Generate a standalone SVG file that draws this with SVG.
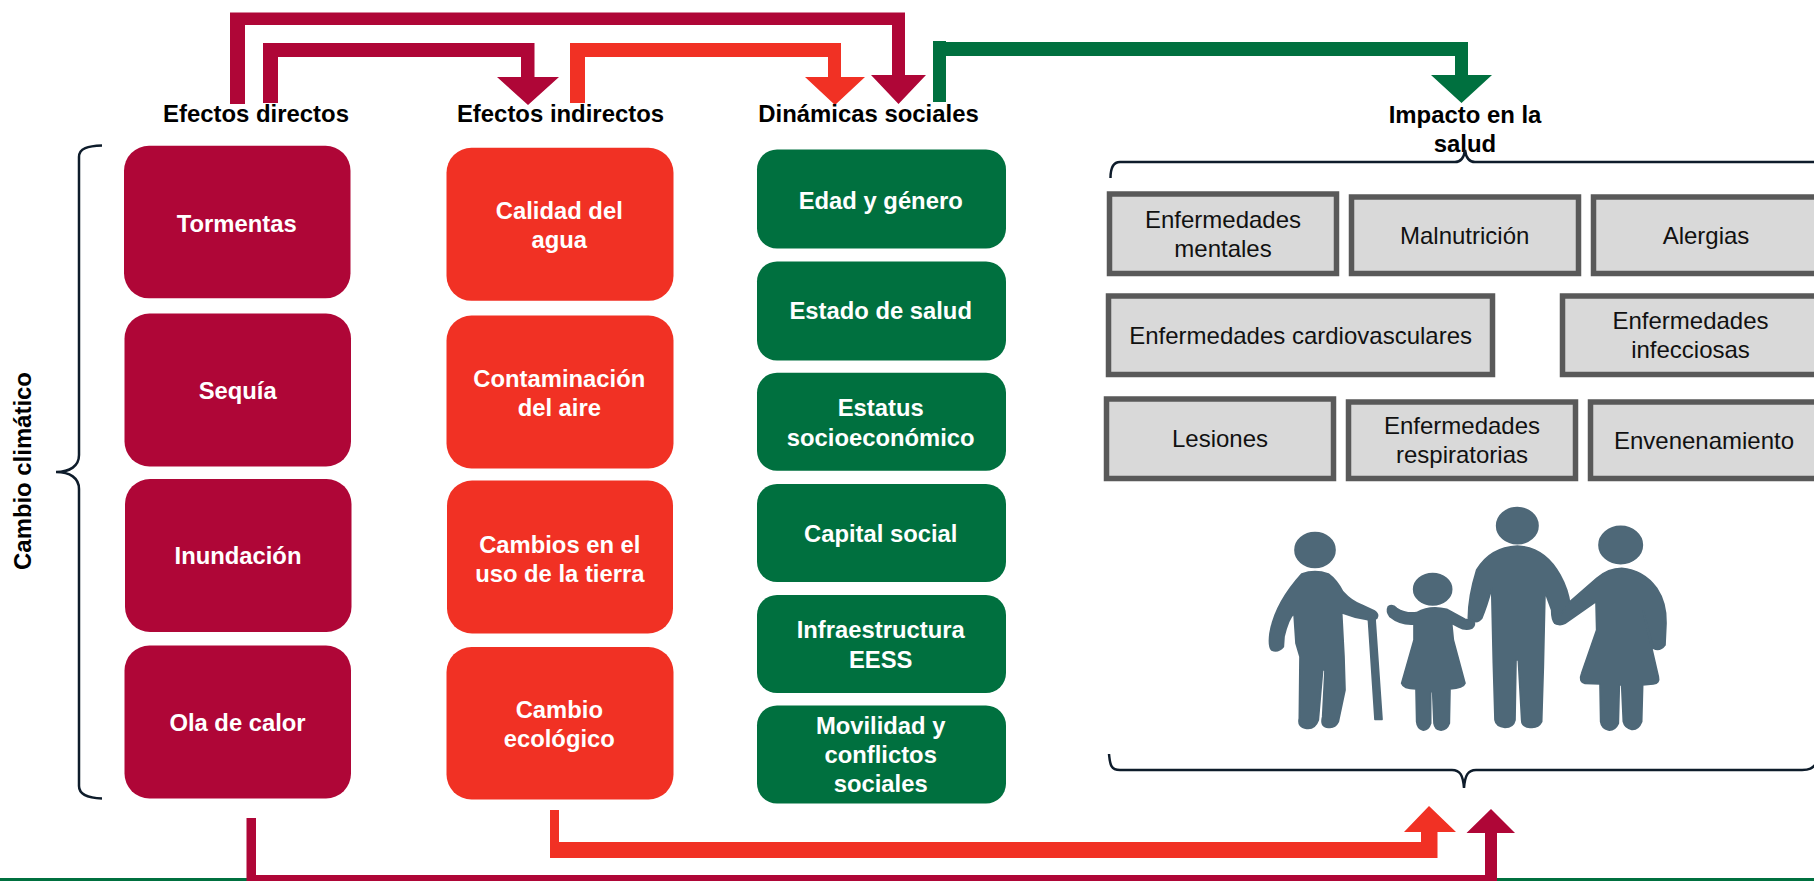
<svg xmlns="http://www.w3.org/2000/svg" width="1814" height="881" viewBox="0 0 1814 881">
<style>
text{font-family:"Liberation Sans",Arial,sans-serif;text-anchor:middle}
.h{font-size:23.9px;font-weight:700;fill:#000}
.w{font-size:23.8px;font-weight:700;fill:#fff}
.g{font-size:24px;fill:#111}
.cr{fill:#AF0637}.or{fill:#F13124}.gn{fill:#00703F}
.bx{fill:#D9D9D9;stroke:#595959;stroke-width:5.500}
.br{fill:none;stroke:#0E1C2B;stroke-width:2.500}
.fam{fill:#4E6878;stroke:#4E6878;stroke-width:5;stroke-linejoin:round}
</style>
<rect width="1814" height="881" fill="#fff"/>
<rect id="base-line" class="gn" x="0" y="878" width="1814" height="3"/>
<g id="connectors">
<path id="c1" class="cr" d="M230 104V12.500H905V75H926L898.500 104L871 75H892V25H245V104Z"/>
<path id="c2" class="cr" d="M263 103V43H534.500V77H559L528 105L497 77H521V57H278V103Z"/>
<path id="c3" class="or" d="M570 103V43H841V77H865L835 105L805 77H828V57H585V103Z"/>
<path id="c4" class="gn" d="M933 102V41H946V42H1468V75H1492L1461.500 103L1431 75H1455V56H946V102Z"/>
<path id="c5" class="or" d="M550 810H559V842H1421V832H1404L1429 806L1456 832H1437.500V858H550Z"/>
<path id="c6" class="cr" d="M246.500 818H256V875H1485V833H1466.500L1491 809L1515 833H1497V881H246.500Z"/>
</g>
<g id="direct-effects">
<text class="h" x="256" y="122">Efectos directos</text>
<g id="tormentas"><rect class="cr" x="124" y="145.800" width="226.500" height="152.500" rx="25"/><text class="w" x="236.700" y="231.700">Tormentas</text></g>
<g id="sequia"><rect class="cr" x="124.500" y="313.500" width="226.500" height="153" rx="25"/><text class="w" x="237.700" y="398.700">Sequía</text></g>
<g id="inundacion"><rect class="cr" x="125" y="479" width="226.500" height="153" rx="25"/><text class="w" x="238" y="564">Inundación</text></g>
<g id="ola"><rect class="cr" x="124.500" y="645.500" width="226.500" height="153" rx="25"/><text class="w" x="237.500" y="731">Ola de calor</text></g>
</g>
<g id="indirect-effects">
<text class="h" x="560.500" y="122">Efectos indirectos</text>
<g id="agua"><rect class="or" x="446.500" y="147.800" width="227" height="153" rx="25"/><text class="w" x="559.300" y="218.700">Calidad del</text><text class="w" x="559.300" y="247.700">agua</text></g>
<g id="aire"><rect class="or" x="446.500" y="315.500" width="227" height="153" rx="25"/><text class="w" x="559.300" y="387">Contaminación</text><text class="w" x="559.300" y="416">del aire</text></g>
<g id="tierra"><rect class="or" x="447" y="480.500" width="226" height="153" rx="25"/><text class="w" x="559.800" y="553">Cambios en el</text><text class="w" x="559.800" y="582">uso de la tierra</text></g>
<g id="ecologico"><rect class="or" x="446.500" y="647" width="227" height="152.500" rx="25"/><text class="w" x="559.300" y="718">Cambio</text><text class="w" x="559.300" y="747">ecológico</text></g>
</g>
<g id="social-dynamics">
<text class="h" x="868.500" y="122">Dinámicas sociales</text>
<g id="edad"><rect class="gn" x="757" y="149.500" width="249" height="99" rx="20"/><text class="w" x="880.700" y="208.700">Edad y género</text></g>
<g id="salud"><rect class="gn" x="757" y="261.500" width="249" height="99" rx="20"/><text class="w" x="880.700" y="319">Estado de salud</text></g>
<g id="estatus"><rect class="gn" x="757" y="372.800" width="249" height="98" rx="20"/><text class="w" x="880.700" y="416">Estatus</text><text class="w" x="880.700" y="446">socioeconómico</text></g>
<g id="capital"><rect class="gn" x="757" y="484" width="249" height="98" rx="20"/><text class="w" x="880.700" y="542">Capital social</text></g>
<g id="infra"><rect class="gn" x="757" y="595" width="249" height="98" rx="20"/><text class="w" x="880.700" y="638">Infraestructura</text><text class="w" x="880.700" y="668">EESS</text></g>
<g id="movilidad"><rect class="gn" x="757" y="705.500" width="249" height="98" rx="20"/><text class="w" x="880.700" y="734">Movilidad y</text><text class="w" x="880.700" y="763">conflictos</text><text class="w" x="880.700" y="791.700">sociales</text></g>
</g>
<g id="climate-label">
<text class="h" transform="translate(31 471) rotate(-90)">Cambio climático</text>
<path id="brace-left" class="br" d="M102 145.500C88 146 79 148 79 157V455C79 466 70 472 56 472C70 472 79 478 79 489V786C79 795 88 798 102 798.500"/>
</g>
<g id="health-impact">
<text class="h" x="1465" y="122.500">Impacto en la</text>
<text class="h" x="1465" y="151.500">salud</text>
<path id="brace-top" class="br" d="M1110.500 178C1110.500 168 1113 162 1120 162H1455C1461 162 1464 158 1465 150C1466 158 1469 162 1475 162H1815"/>
<g id="b1"><rect class="bx" x="1109.500" y="194" width="227" height="79.500"/><text class="g" x="1223" y="227.700">Enfermedades</text><text class="g" x="1223" y="257">mentales</text></g>
<g id="b2"><rect class="bx" x="1351.500" y="197" width="227" height="76.500"/><text class="g" x="1464.700" y="244">Malnutrición</text></g>
<g id="b3"><rect class="bx" x="1593.500" y="197" width="227" height="76.500"/><text class="g" x="1706" y="244">Alergias</text></g>
<g id="b4"><rect class="bx" x="1108.500" y="296" width="384" height="78.500"/><text class="g" x="1300.600" y="344">Enfermedades cardiovasculares</text></g>
<g id="b5"><rect class="bx" x="1562.500" y="296" width="260" height="78.500"/><text class="g" x="1690.500" y="329">Enfermedades</text><text class="g" x="1690.500" y="358">infecciosas</text></g>
<g id="b6"><rect class="bx" x="1106.500" y="399" width="227" height="79.500"/><text class="g" x="1220" y="446.700">Lesiones</text></g>
<g id="b7"><rect class="bx" x="1348.500" y="402" width="227" height="76.500"/><text class="g" x="1462" y="434">Enfermedades</text><text class="g" x="1462" y="462.700">respiratorias</text></g>
<g id="b8"><rect class="bx" x="1590.500" y="402" width="227" height="76.500"/><text class="g" x="1704" y="448.700">Envenenamiento</text></g>
<g id="family" class="fam" transform="translate(1220 490) scale(.33333)">
<ellipse cx="285" cy="180" rx="60" ry="52"/>
<path d="M245 252Q285 238 325 252Q350 270 368 305Q395 335 425 345L462 362Q478 372 470 385Q460 392 440 388Q400 382 365 368L372 500L375 600L355 695Q345 715 325 712Q300 712 308 680L315 540H308L295 690Q285 718 260 715Q232 712 238 685L240 500L228 460L222 370Q205 385 192 440L190 470Q175 488 155 480Q145 470 150 430Q165 340 245 252Z"/>
<path d="M445 385H465L486 688H465Z"/>
<ellipse cx="638" cy="298" rx="57" ry="47"/>
<path d="M505 350Q518 342 530 355Q555 372 590 368Q630 345 680 358L735 388L760 392Q768 405 755 415Q735 422 715 410L695 400L700 450L735 580Q730 595 690 597L688 700Q680 722 660 720Q645 718 642 700L638 605H632V700Q625 722 608 720Q592 715 590 695L588 597Q550 597 545 580L582 450V402Q540 405 510 380Q498 365 505 350Z"/>
<ellipse cx="892" cy="107" rx="62" ry="54"/>
<path d="M892 168Q975 172 1020 255Q1045 300 1050 345L1040 385Q1025 408 1005 400Q995 390 995 360L975 305L970 530L965 695Q955 715 930 712Q905 710 905 690L895 510H888L885 690Q880 712 855 712Q828 710 825 690L820 520L815 295Q800 350 785 385Q770 405 745 385Q745 320 770 240Q810 172 892 168Z"/>
<ellipse cx="1202" cy="165" rx="65" ry="56"/>
<path d="M1205 235Q1270 240 1310 295Q1340 340 1338 400L1335 465Q1320 485 1300 475L1270 365L1315 560Q1320 580 1300 582L1268 585L1265 695Q1255 720 1235 718Q1215 715 1210 695L1205 585H1198L1195 700Q1185 722 1165 720Q1145 715 1142 695L1140 582L1095 580Q1075 575 1085 550L1130 420L1128 335L1035 400Q1020 408 1005 400L1050 335L1130 265Q1165 235 1205 235Z"/>
</g>
<path id="brace-bottom" class="br" d="M1109 754C1110 765 1111 770 1120 770H1452C1460 770 1463 775 1464 788C1465 775 1468 770 1476 770H1802C1810 770 1812 768 1815 765"/>
</g>
</svg>
